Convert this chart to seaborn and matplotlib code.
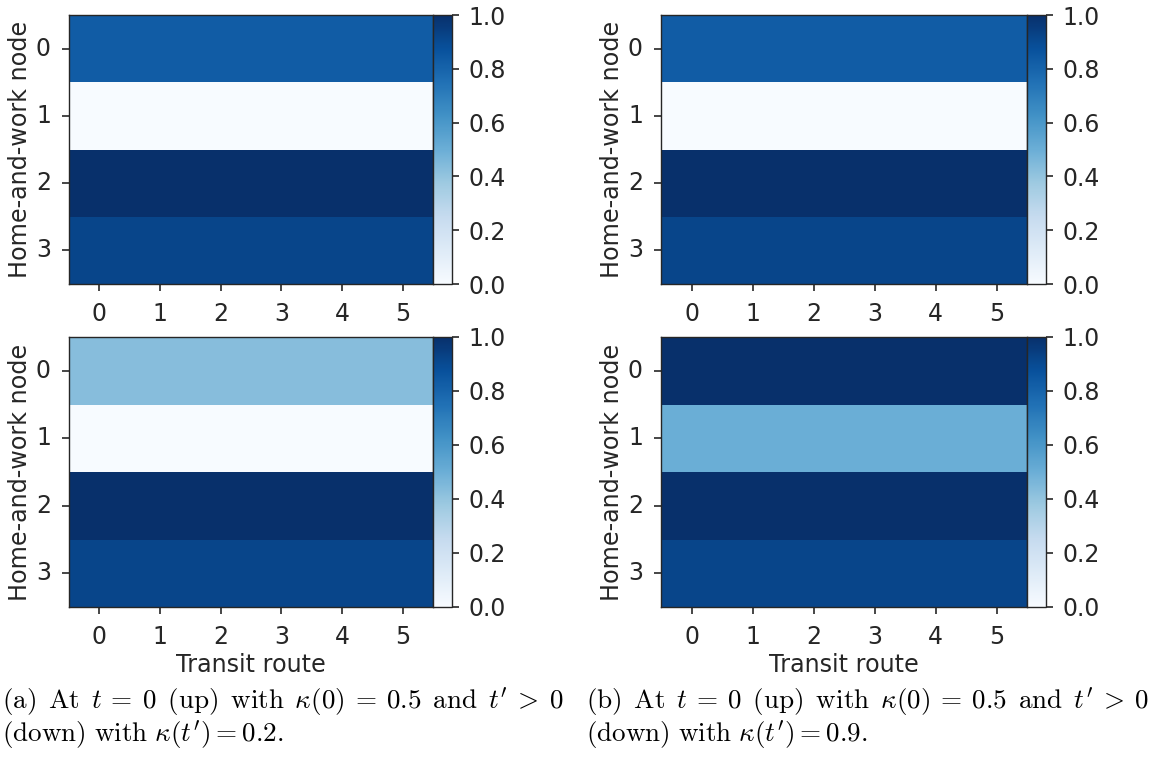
import numpy as np
import pandas as pd
import matplotlib
matplotlib.use("Agg")
import matplotlib.pyplot as plt
import seaborn as sns

# ---- data ----
nodes = [0, 1, 2, 3]
routes = [0, 1, 2, 3, 4, 5]
a_up = [0.83, 0.0, 1.0, 0.92]
a_down = [0.43, 0.0, 1.0, 0.92]
b_up = [0.83, 0.0, 1.0, 0.92]
b_down = [1.0, 0.5, 1.0, 0.92]
cbar_ticks = [0.0, 0.2, 0.4, 0.6, 0.8, 1.0]
caption_a = [r"$\mathrm{(a)\ \,At\ \,}t\:=\:0\mathrm{\ \,(up)\ \,with\ \,}\kappa(0)\:=\:0.5\mathrm{\ \,and\ \,}t'\:>\:0$",
             r"$\mathrm{(down)\ with\ }\kappa(t')=0.2\mathrm{.}$"]
caption_b = [r"$\mathrm{(b)\ \,At\ \,}t\:=\:0\mathrm{\ \,(up)\ \,with\ \,}\kappa(0)\:=\:0.5\mathrm{\ \,and\ \,}t'\:>\:0$",
             r"$\mathrm{(down)\ with\ }\kappa(t')=0.9\mathrm{.}$"]

sns.set_style("white")
plt.rcParams["font.family"] = ["DejaVu Sans"]
plt.rcParams["mathtext.fontset"] = "cm"

W, H = 1157, 762
fig = plt.figure(figsize=(W / 100, H / 100), dpi=100)

def fx(px):
    return px / W

def fy(top, bottom):
    return 1 - bottom / H, (bottom - top) / H

panels = [
    (a_up, 69, 433, 15, 284, False),
    (b_up, 661, 1027, 15, 284, False),
    (a_down, 69, 433, 337, 607, True),
    (b_down, 661, 1027, 337, 607, True),
]

dark = "#262626"
fs = 17
for vals, x0, x1, top, bot, xlabel in panels:
    y0, h = fy(top, bot)
    ax = fig.add_axes([fx(x0), y0, fx(x1 - x0), h])
    cax = fig.add_axes([fx(x1), y0, fx(19), h])
    df = pd.DataFrame(np.tile(np.array(vals)[:, None], (1, len(routes))),
                      index=nodes, columns=routes)
    sns.heatmap(df, ax=ax, cbar_ax=cax, cmap="Blues", vmin=0, vmax=1,
                cbar_kws={"ticks": cbar_ticks})
    for s in ax.spines.values():
        s.set_visible(True)
        s.set_color(dark)
        s.set_linewidth(1.0)
    ax.tick_params(axis="both", which="major", direction="out", length=5,
                   width=1.2, color=dark, labelsize=fs, labelcolor=dark,
                   left=True, bottom=True, pad=8)
    ax.set_yticklabels([str(n) for n in nodes], rotation=0)
    ax.set_xticklabels([str(r) for r in routes], rotation=0)
    ax.set_ylabel("Home-and-work node", fontsize=17.2, color=dark, labelpad=3)
    if xlabel:
        ax.set_xlabel("Transit route", fontsize=17.2, color=dark, labelpad=3)
    else:
        ax.set_xlabel("")
    cb = ax.collections[0].colorbar
    cb.outline.set_visible(True)
    cb.outline.set_linewidth(1.0)
    cb.outline.set_edgecolor(dark)
    cax.tick_params(direction="out", length=5, width=1.2, color=dark,
                    labelsize=fs, labelcolor=dark, right=True, pad=7)
    cb.set_ticklabels(["%.1f" % t for t in cbar_ticks])

for lines, x in ((caption_a, 2), (caption_b, 586)):
    fig.text(fx(x), 1 - 702 / H, lines[0], fontsize=19.5, ha="left", va="center", color="black")
    fig.text(fx(x), 1 - 735 / H, lines[1], fontsize=19.5, ha="left", va="center", color="black")

fig.savefig("out.png", dpi=100, facecolor="white")
